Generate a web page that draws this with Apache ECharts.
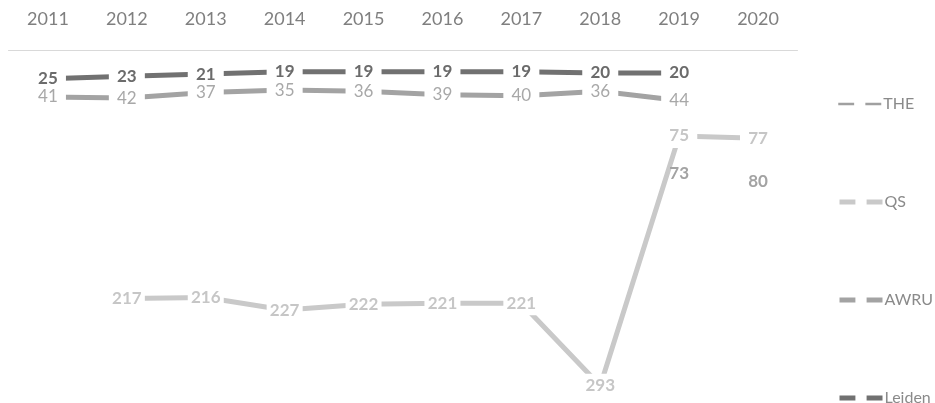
<!DOCTYPE html>
<html>
<head>
<meta charset="utf-8">
<script src="https://cdn.jsdelivr.net/npm/echarts@6/dist/echarts.min.js"></script>
<style>html,body{margin:0;padding:0;background:#fff;}#c{width:935px;height:403px;}</style>
</head>
<body>
<div id="c"></div>
<script>
const years = ['2011','2012','2013','2014','2015','2016','2017','2018','2019','2020'];
const THE = [null,null,null,null,null,null,null,null,73,80];
const QS = [null,217,216,227,222,221,221,293,75,77];
const AWRU = [41,42,37,35,36,39,40,36,44,null];
const Leiden = [25,23,21,19,19,19,19,20,20,null];
const legendNames = ['THE','QS','AWRU','Leiden'];

const FONT = 'Lato, "Open Sans", sans-serif';
const colors = { THE: '#a0a0a0', QS: '#c9c9c9', AWRU: '#a3a3a3', Leiden: '#717171' };
function mk(name, data, width, labelColor, bold, extra) {
  return Object.assign({
    name: name, type: 'line', data: data,
    symbol: 'rect', symbolSize: [36, 24],
    itemStyle: { color: '#ffffff', borderWidth: 0 },
    lineStyle: { color: colors[name], width: width },
    label: { show: true, position: 'inside', color: labelColor, fontFamily: FONT,
             fontSize: 17, fontWeight: bold ? 'bold' : 'normal' },
    emphasis: { disabled: true },
    animation: false
  }, extra || {});
}
const centers = [103, 201, 299, 397];
const legends = legendNames.map((n, i) => ({
  orient: 'vertical', left: 837, top: centers[i] - 7, padding: 0,
  itemWidth: 43, itemHeight: 14,
  textStyle: { color: '#8a8a8a', fontSize: 16, fontFamily: FONT, padding: [0,0,0,-3] },
  data: [{ name: n, lineStyle: { width: n === 'THE' ? 2.5 : 5, opacity: 1, color: colors[n] } }]
}));
const chart = echarts.init(document.getElementById('c'));
chart.setOption({
  backgroundColor: '#ffffff',
  animation: false,
  grid: { left: 8.5, right: 137.5, top: 50, bottom: 9.3 },
  xAxis: {
    type: 'category', data: years, position: 'top', boundaryGap: true,
    axisLine: { show: true, lineStyle: { color: '#d9d9d9', width: 1 } },
    axisTick: { show: false },
    axisLabel: { color: '#7f7f7f', fontSize: 18, fontFamily: FONT, margin: 22 },
    splitLine: { show: false }
  },
  yAxis: { type: 'value', inverse: true, min: 0, max: 300, show: false, splitLine: { show: false } },
  legend: legends,
  series: [
    mk('THE', THE, 2, '#a3a3a3', true, {
      lineStyle: { color: colors.THE, width: 0, opacity: 0 },
      label: { show: true, position: 'inside', offset: [0, 40], color: '#a3a3a3', fontFamily: FONT, fontSize: 17, fontWeight: 'bold' }
    }),
    mk('QS', QS, 5, '#c6c6c6', true),
    mk('AWRU', AWRU, 5, '#a8a8a8', false),
    mk('Leiden', Leiden, 5, '#6b6b6b', true)
  ]
});
</script>
</body>
</html>
